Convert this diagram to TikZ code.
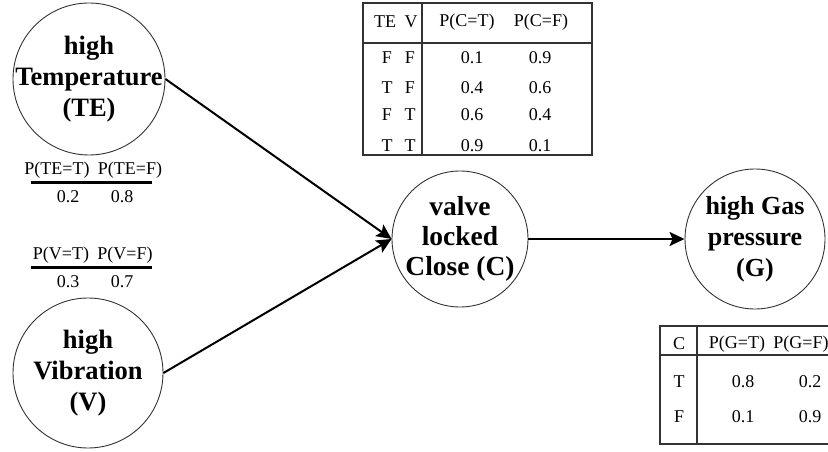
\documentclass[tikz,border=0pt]{standalone}
\usepackage{fontspec}
\setmainfont{Liberation Serif}
\usetikzlibrary{arrows.meta}
\begin{document}
\begin{tikzpicture}[x=1pt,y=-1pt,
  state/.style={circle,draw=black!80,line width=0.9pt,inner sep=0pt},
  stext/.style={align=center,inner sep=0pt,font=\fontsize{26.5}{31}\selectfont\bfseries},
  conn/.style={line width=2pt,-{Stealth[length=15pt,width=14pt,inset=3pt]}},
  tbl/.style={inner sep=0pt,font=\fontsize{18}{22}\selectfont},
  rule/.style={draw=black!80,line width=1.1pt}]
\useasboundingbox (0,0) rectangle (828,452);
\node[state,minimum size=152pt] (TE) at (89,79) {};
\node[stext] (TEt) at (TE.center) {high\\Temperature\\(TE)};
\node[state,minimum size=150pt] (V) at (88,373) {};
\node[stext] (Vt) at (V.center) {high\\Vibration\\(V)};
\node[state,minimum size=136pt] (C) at (460,239) {};
\node[stext,font=\fontsize{27.5}{30}\selectfont\bfseries] (Ct) at (C.center) {valve\\locked\\Close (C)};
\node[state,minimum size=140pt] (G) at (755,239) {};
\node[stext,font=\fontsize{26}{31}\selectfont\bfseries] (Gt) at (G.center) {high Gas\\pressure\\(G)};
\draw[conn] (TE.east) -- (C.west);
\draw[conn] (V.east) -- (C.west);
\draw[conn] (C.east) -- (G.west);
% prior TE
\node[tbl] (pte1) at (57,170) {P(TE=T)};
\node[tbl] (pte2) at (130,170) {P(TE=F)};
\draw[line width=3pt] (31,182) coordinate (lte1) -- (152,182) coordinate (lte2);
\node[tbl] (vte1) at (68,197) {0.2};
\node[tbl] (vte2) at (122,197) {0.8};
% prior V
\node[tbl] (pv1) at (61,255) {P(V=T)};
\node[tbl] (pv2) at (125,255) {P(V=F)};
\draw[line width=3pt] (31,267) coordinate (lv1) -- (152,267) coordinate (lv2);
\node[tbl] (vv1) at (68,282) {0.3};
\node[tbl] (vv2) at (122,282) {0.7};
% CPT C
\draw[rule] (363,3) rectangle (592,155);
\draw[rule] (422,3) -- (422,155);
\draw[rule] (363,43) -- (592,43);
\node[tbl] (hte) at (385,22) {TE};
\node[tbl] (hv) at (411,22) {V};
\node[tbl] (hct) at (467,22) {P(C=T)};
\node[tbl] (hcf) at (541,22) {P(C=F)};
\foreach \y/\a/\b/\p/\q [count=\i] in {58/F/F/0.1/0.9, 88/T/F/0.4/0.6, 115/F/T/0.6/0.4, 146/T/T/0.9/0.1}{
  \node[tbl] (ra\i) at (387,\y) {\a};
  \node[tbl] (rb\i) at (410,\y) {\b};
  \node[tbl] (rp\i) at (472,\y) {\p};
  \node[tbl] (rq\i) at (540,\y) {\q};
}
% CPT G
\draw[rule] (835,326) -- (660,326) -- (660,444) -- (835,444);
\draw[rule] (697,326) -- (697,444);
\draw[rule] (660,355) -- (835,355);
\node[tbl] (hc) at (679,344) {C};
\node[tbl] (hgt) at (737,344) {P(G=T)};
\node[tbl] (hgf) at (801,344) {P(G=F)};
\node[tbl] (gc1) at (679,382) {T};
\node[tbl] (gc2) at (679,417) {F};
\node[tbl] (gt1) at (743,382) {0.8};
\node[tbl] (gt2) at (743,417) {0.1};
\node[tbl] (gf1) at (810,382) {0.2};
\node[tbl] (gf2) at (810,417) {0.9};
\end{tikzpicture}
\end{document}
